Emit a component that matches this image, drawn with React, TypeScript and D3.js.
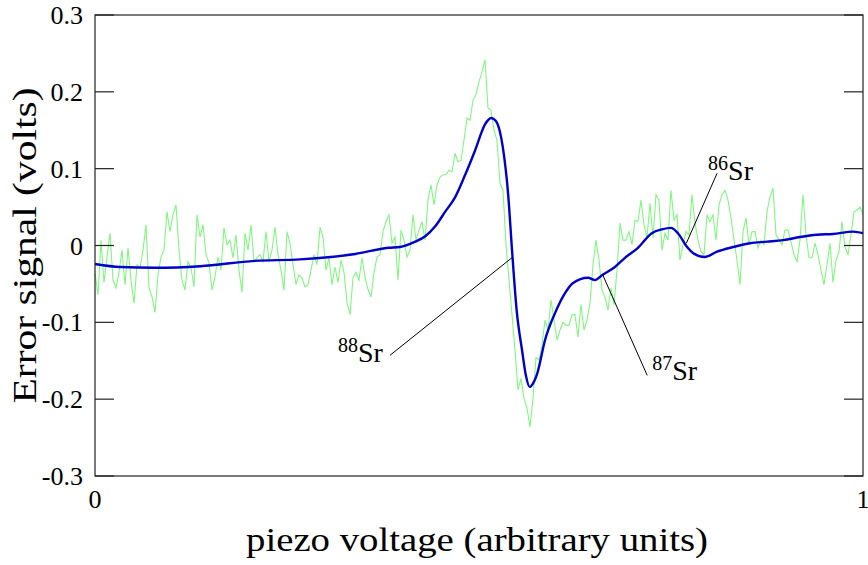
import React from "react";
import * as d3 from "d3";

// Y axis ticks
const yTicks = [-0.3, -0.2, -0.1, 0, 0.1, 0.2, 0.3];
const xTicks = [0, 1];

// Raw error signal (green), evenly sampled over piezo voltage 0..1
const rawSignal = [
  -0.036, -0.064, 0.007, -0.048, -0.015, 0.016, -0.045, -0.055, -0.035, -0.006,
  -0.051, -0.003, -0.045, -0.075, -0.025, -0.029, -0.006, 0.027, -0.055, -0.067,
  -0.087, -0.038, -0.015, -0.006, 0.044, 0.018, 0.040, 0.053, -0.006, -0.045,
  -0.058, -0.021, -0.029, -0.054, 0.040, 0.011, 0.027, -0.012, -0.023, -0.058,
  -0.041, -0.015, -0.032, 0.023, 0.001, 0.007, -0.016, 0.014, -0.032, -0.061,
  0.016, -0.006, 0.027, -0.021,
  -0.016, -0.012, -0.021, 0.018, -0.021, -0.006, 0.024, -0.012, -0.032, -0.058,
  0.018, 0.003, -0.025, -0.051, -0.038, -0.042, -0.054, -0.051, -0.032, -0.012,
  -0.025, 0.024, 0.011, -0.032, -0.016, -0.051, -0.028, -0.048, -0.019, -0.035,
  -0.074, -0.090, -0.042, -0.035, -0.045, -0.016, -0.041, -0.057, -0.067, -0.035,
  -0.015, -0.012, 0.018, 0.031, 0.040, 0.003, 0.011, -0.045, 0.020, 0.007,
  -0.015, -0.006, 0.040,
  0.007, 0.020, 0.031, 0.007, 0.059, 0.079, 0.053, 0.079, 0.089, 0.092,
  0.092, 0.098, 0.096, 0.120, 0.109, 0.111, 0.137, 0.166, 0.163, 0.189,
  0.196, 0.213, 0.226, 0.242, 0.179, 0.176, 0.150, 0.137, 0.081, 0.072,
  0.001, -0.045, -0.090, -0.136, -0.188, -0.173, -0.199, -0.212, -0.236, -0.199,
  -0.146, -0.149, -0.130, -0.097,
  -0.110, -0.071, -0.097, -0.123, -0.110, -0.100, -0.104, -0.104, -0.090, -0.090,
  -0.119, -0.077, -0.110, -0.097, -0.075, -0.025, 0.007, -0.019, -0.058, -0.067,
  -0.084, -0.055, -0.077, -0.032, 0.029, 0.007, 0.007, 0.018, 0.001, 0.033,
  0.031, 0.059, 0.027, 0.010, 0.055, 0.010, 0.066, 0.059, -0.006, 0.016,
  0.007, 0.072, 0.033, 0.040, -0.019, 0.001, 0.018, 0.014, 0.066, 0.029,
  0.007, -0.008, -0.012,
  0.040, 0.031, 0.040, 0.007, 0.053, 0.066, 0.072, 0.059, 0.036, 0.007,
  -0.019, -0.051, 0.018, 0.036, 0.001, 0.018, 0.018, -0.003, 0.007, 0.001,
  0.044, 0.063, 0.075, 0.014, 0.007, 0.001, 0.020, 0.020, 0.005, -0.012,
  -0.021, 0.007, 0.066, 0.014, -0.016, -0.016, 0.003, -0.012, -0.032, -0.051,
  -0.025, 0.003, -0.048, -0.019, -0.008, 0.031, -0.002, -0.012, 0.014, 0.044,
  0.046, 0.050, 0.040,
];

// Smoothed signal (blue)
const smoothX = [
  0, 0.033, 0.078, 0.137, 0.208, 0.267, 0.339, 0.382, 0.397, 0.417,
  0.430, 0.443, 0.456, 0.469, 0.482, 0.495, 0.508, 0.516, 0.522, 0.527,
  0.531, 0.538, 0.543, 0.549, 0.556, 0.561, 0.566, 0.570, 0.576, 0.586,
  0.599, 0.612, 0.622, 0.642, 0.651, 0.661, 0.677, 0.690, 0.707, 0.725,
  0.738, 0.750, 0.759, 0.771, 0.779, 0.794, 0.810, 0.831, 0.853, 0.875,
  0.896, 0.918, 0.940, 0.961, 0.987, 1.0,
];
const smoothY = [
  -0.024, -0.028, -0.029, -0.027, -0.020, -0.018, -0.011, -0.003, -0.002, 0.005,
  0.012, 0.025, 0.044, 0.063, 0.092, 0.124, 0.158, 0.166, 0.162, 0.149,
  0.128, 0.066, -0.006, -0.084, -0.136, -0.169, -0.184, -0.180, -0.166, -0.123,
  -0.088, -0.062, -0.049, -0.042, -0.045, -0.038, -0.028, -0.016, -0.003, 0.016,
  0.021, 0.023, 0.016, -0.002, -0.010, -0.015, -0.008, -0.002, 0.003, 0.005,
  0.007, 0.011, 0.014, 0.015, 0.018, 0.016,
];

// Isotope annotations
const isotopes = ["88", "87", "86"];
const annotFrom = [[0.544, -0.015], [0.661, -0.038], [0.770, 0.003]];
const annotTo = [[0.384, -0.143], [0.719, -0.169], [0.810, 0.094]];

const W = 868;
const H = 565;
const M = { left: 95, right: 5, top: 15, bottom: 89 };
const FONT = "Liberation Serif";
const serif = { fontFamily: '"Liberation Serif"' };

export default function App() {
  const x = d3.scaleLinear().domain([0, 1]).range([M.left, W - M.right]);
  const y = d3.scaleLinear().domain([-0.3, 0.3]).range([H - M.bottom, M.top]);
  const n = rawSignal.length;
  const rawLine = d3
    .line<number>()
    .x((_, i) => x(i / (n - 1)))
    .y((d) => y(d));
  const smoothLine = d3
    .line<number>()
    .x((_, i) => x(smoothX[i]))
    .y((d) => y(d))
    .curve(d3.curveMonotoneX);
  const x0 = M.left;
  const x1 = W - M.right;
  const tickLen = 19;

  const labelPos = isotopes.map((m, i) => {
    const [tx, ty] = annotTo[i];
    const px = x(tx);
    const py = y(ty);
    if (m === "88") return { sx: px - 32, base: py + 7 };
    if (m === "87") return { sx: px + 25, base: py + 5 };
    return { sx: px + 11, base: py + 7 };
  });

  return (
    <svg width={W} height={H} style={{ position: "absolute", left: 0, top: 0, background: "#fff" }}>
      <path d={rawLine(rawSignal) || ""} fill="none" stroke="#80f880" strokeWidth={1.1} />
      <path d={smoothLine(smoothY) || ""} fill="none" stroke="#0000c8" strokeWidth={2.4} />

      {/* frame */}
      <rect
        x={x0}
        y={M.top}
        width={x1 - x0}
        height={H - M.bottom - M.top}
        fill="none"
        stroke="#222"
        strokeWidth={1.2}
      />
      {yTicks.map((t) => (
        <g key={t}>
          <line x1={x0} x2={x0 + tickLen} y1={y(t)} y2={y(t)} stroke="#222" strokeWidth={1.2} />
          <line x1={x1 - tickLen} x2={x1} y1={y(t)} y2={y(t)} stroke="#222" strokeWidth={1.2} />
        </g>
      ))}

      {/* y tick labels: one text element, one tspan per label */}
      <text textAnchor="end" fontSize={26} fontFamily={FONT} style={serif}>
        {yTicks.map((t, i) => (
          <tspan key={"l" + t} x={x0 - 12} y={y(t) + 9}>
            {(i > 0 ? " " : "") + (t === 0 ? "0" : t.toFixed(1))}
          </tspan>
        ))}
      </text>

      {/* x tick labels */}
      <text textAnchor="start" fontSize={26} fontFamily={FONT} style={serif}>
        {xTicks.map((t) => (
          <tspan key={"x" + t} x={x(t) - 6.5} y={H - M.bottom + 32}>
            {String(t) + " "}
          </tspan>
        ))}
      </text>

      {/* annotation leader lines */}
      {isotopes.map((m, i) => {
        const [fx, fy] = annotFrom[i];
        const [tx, ty] = annotTo[i];
        return (
          <line key={"a" + m} x1={x(fx)} y1={y(fy)} x2={x(tx)} y2={y(ty)} stroke="#000" strokeWidth={1} />
        );
      })}

      {/* annotation labels */}
      <text textAnchor="start" fontSize={28} fontFamily={FONT} style={serif}>
        {isotopes.map((m, i) => {
          const { sx, base } = labelPos[i];
          return (
            <React.Fragment key={"t" + m}>
              <tspan x={sx - 20} y={base - 10} fontSize={20}>
                {m}
              </tspan>
              <tspan x={sx} y={base} fontSize={28}>
                {"Sr "}
              </tspan>
            </React.Fragment>
          );
        })}
      </text>

      {/* axis titles */}
      <text
        x={(x0 + x1) / 2 - 2}
        y={H - 14}
        textAnchor="middle"
        fontSize={33}
        textLength={462}
        lengthAdjust="spacingAndGlyphs"
        fontFamily={FONT}
        style={serif}
      >
        piezo voltage (arbitrary units)
      </text>
      <text
        transform={`translate(36, ${(M.top + H - M.bottom) / 2}) rotate(-90)`}
        textAnchor="middle"
        fontSize={33}
        textLength={316}
        lengthAdjust="spacingAndGlyphs"
        fontFamily={FONT}
        style={serif}
      >
        Error signal (volts)
      </text>
    </svg>
  );
}
